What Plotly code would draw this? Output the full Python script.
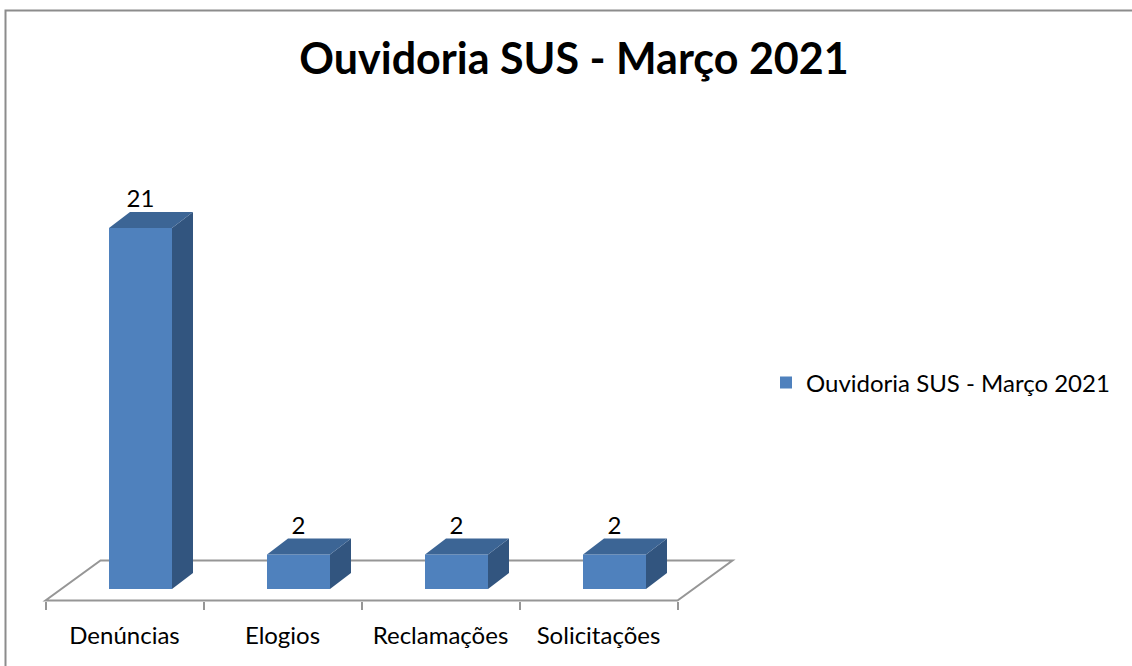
import plotly.graph_objects as go

# ---- data ----
categories = ["Denúncias", "Elogios", "Reclamações", "Solicitações"]
values = [21, 2, 2, 2]
series_name = "Ouvidoria SUS - Março 2021"
title_text = "Ouvidoria SUS - Março 2021"

# ---- style / geometry constants ----
W, H = 1132, 666
FONT = "Lato"
FRONT = "#4F81BD"
TOP = "#3C6595"
SIDE = "#32557F"
GRID = "#969696"

# pixel mapping helpers (figure has zero margins, so paper = pixels)
X0_PX, STEP_PX = 124.5, 158.0      # category centre on floor front edge, spacing
Y0_PX, UNIT_PX = 589.0, 17.19      # bar base pixel row, pixels per value unit
PA_LEFT, PA_RIGHT, PA_TOP, PA_BOTTOM = 30, 760, 140, 625

def px_to_x(px):
    return (px - X0_PX) / STEP_PX

def px_to_y(py):
    return (Y0_PX - py) / UNIT_PX

x_range = [px_to_x(PA_LEFT), px_to_x(PA_RIGHT)]
y_range = [px_to_y(PA_BOTTOM), px_to_y(PA_TOP)]

bar_off = 16 / STEP_PX          # bar centre shift (bars sit mid-depth)
bar_w = 63 / STEP_PX            # bar width
ddx = 21 / STEP_PX              # bar depth (x)
ddy = 16 / UNIT_PX              # bar depth (y)
floor_front = px_to_y(600.5)
floor_back = px_to_y(560.5)
floor_dx = 55 / STEP_PX

idx = list(range(len(categories)))
centers = [i + bar_off for i in idx]

fig = go.Figure()

# front faces
fig.add_trace(go.Bar(
    x=centers, y=values, base=0, width=bar_w,
    marker=dict(color=FRONT, line=dict(width=0)),
    name=series_name, showlegend=True, hoverinfo="skip",
))

# top and side faces
for c, v in zip(centers, values):
    xl, xr = c - bar_w / 2, c + bar_w / 2
    fig.add_trace(go.Scatter(
        x=[xr, xr, xr + ddx, xr + ddx, xr], y=[0, v, v + ddy, ddy, 0],
        fill="toself", fillcolor=SIDE, mode="lines", line=dict(width=0),
        showlegend=False, hoverinfo="skip"))
    fig.add_trace(go.Scatter(
        x=[xl, xr, xr + ddx, xl + ddx, xl], y=[v, v, v + ddy, v + ddy, v],
        fill="toself", fillcolor=TOP, mode="lines", line=dict(width=0),
        showlegend=False, hoverinfo="skip"))

# data labels
fig.add_trace(go.Scatter(
    x=centers, y=[v + ddy + 11 / UNIT_PX for v in values],
    mode="text", text=[str(v) for v in values],
    textposition="middle center",
    textfont=dict(family=FONT, size=24, color="black"),
    showlegend=False, hoverinfo="skip", cliponaxis=False))

# floor
n = len(categories)
fl, fr = -0.5, n - 0.5
floor_path = (f"M {fl},{floor_front} L {fr},{floor_front} "
              f"L {fr + floor_dx},{floor_back} L {fl + floor_dx},{floor_back} Z")
fig.add_shape(type="path", path=floor_path, xref="x", yref="y",
              fillcolor="white", line=dict(color=GRID, width=2), layer="below")

# chart border (left and top edges visible, others run off the page)
fig.add_shape(type="rect", xref="paper", yref="paper",
              x0=5.5 / W, x1=1.3, y0=-0.3, y1=1 - 10.5 / H,
              line=dict(color="#8C8C8C", width=2), fillcolor="rgba(0,0,0,0)",
              layer="below")

axis_y_paper = 1 - 600.5 / H
fig.update_layout(
    width=W, height=H,
    margin=dict(l=0, r=0, t=0, b=0),
    paper_bgcolor="white", plot_bgcolor="rgba(0,0,0,0)",
    font=dict(family=FONT, size=24, color="black"),
    title=dict(text=f"<b>{title_text}</b>", x=574 / W, xanchor="center",
               y=1 - 59 / H, yanchor="middle",
               font=dict(family=FONT, size=43, color="black")),
    xaxis=dict(domain=[PA_LEFT / W, PA_RIGHT / W], range=x_range,
               anchor="free", position=axis_y_paper,
               tickmode="array", tickvals=idx, ticktext=categories,
               ticks="", showline=False, showgrid=False, zeroline=False,
               ticklabelstandoff=18,
               tickfont=dict(family=FONT, size=24, color="black"),
               minor=dict(tickmode="array", tickvals=[i - 0.5 for i in range(n + 1)],
                          ticks="outside", ticklen=8, tickcolor=GRID, tickwidth=2,
                          showgrid=False)),
    yaxis=dict(domain=[1 - PA_BOTTOM / H, 1 - PA_TOP / H], range=y_range,
               visible=False, showgrid=False, zeroline=False),
    legend=dict(x=766 / W, y=1 - 383 / H, xanchor="left", yanchor="middle",
                font=dict(family=FONT, size=24, color="black"),
                bgcolor="rgba(0,0,0,0)", itemsizing="constant"),
    showlegend=True,
)

fig.write_html("out.html", config={"displayModeBar": False},
               post_script="document.body.style.margin='0';")
